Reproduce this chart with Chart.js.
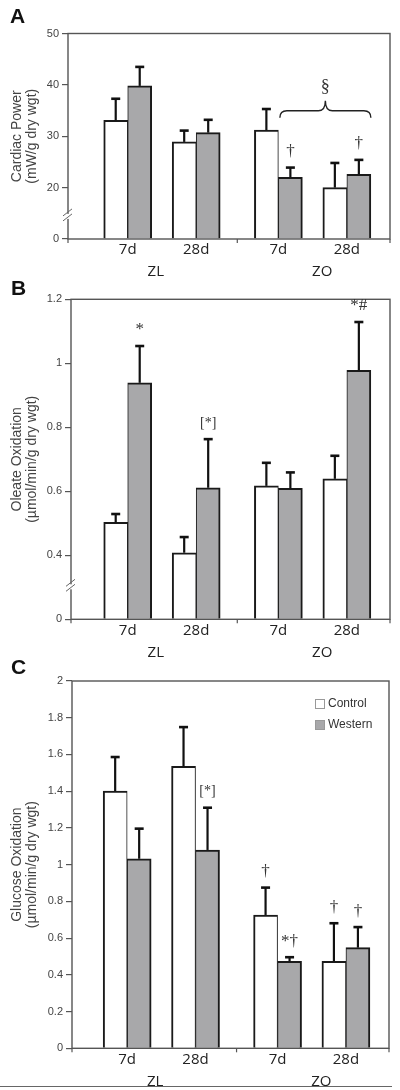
<!DOCTYPE html>
<html>
<head>
<meta charset="utf-8">
<script src="https://cdn.jsdelivr.net/npm/chart.js@4.4.0/dist/chart.umd.min.js"></script>
<style>
  html, body { margin: 0; padding: 0; background: #fff; }
  #wrap { width: 400px; }
  .panel { position: relative; width: 400px; }
  .panel canvas { display: block; }
</style>
</head>
<body>
<div id="wrap">
  <div class="panel" style="height:279px"><canvas id="chartA"></canvas></div>
  <div class="panel" style="height:380px"><canvas id="chartB"></canvas></div>
  <div class="panel" style="height:431px"><canvas id="chartC"></canvas></div>
</div>
<script>
var categories = ['7d', '28d', '7d', '28d'];
var groupGenotype = [0, 0, 1, 1];
var genotypes = ['ZL', 'ZO'];
var seriesNames = ['Control', 'Western'];

// A: cardiac power
var powerControl = [33.1, 28.9, 31.2, 20.0];
var powerControlErr = [4.2, 2.2, 4.1, 4.8];
var powerWestern = [39.8, 30.7, 22.0, 22.6];
var powerWesternErr = [3.7, 2.5, 1.9, 2.8];
var powerTicks = [10, 20, 30, 40, 50];
var powerTickLabels = ['0', '20', '30', '40', '50'];
var powerNotes = [[2, 1, '†'], [3, 1, '†']];

// B: oleate oxidation
var oleateControl = [0.503, 0.408, 0.617, 0.639];
var oleateControlErr = [0.026, 0.049, 0.072, 0.072];
var oleateWestern = [0.939, 0.611, 0.609, 0.978];
var oleateWesternErr = [0.115, 0.152, 0.050, 0.151];
var oleateTicks = [0.2, 0.4, 0.6, 0.8, 1, 1.2];
var oleateTickLabels = ['0', '0.4', '0.6', '0.8', '1', '1.2'];
var oleateNotes = [[0, 1, '*'], [1, 1, '[*]'], [3, 1, '*#']];

// C: glucose oxidation
var glucoseControl = [1.401, 1.535, 0.726, 0.474];
var glucoseControlErr = [0.185, 0.214, 0.149, 0.207];
var glucoseWestern = [1.032, 1.080, 0.474, 0.548];
var glucoseWesternErr = [0.164, 0.230, 0.022, 0.112];
var glucoseTicks = [0, 0.2, 0.4, 0.6, 0.8, 1, 1.2, 1.4, 1.6, 1.8, 2];
var glucoseTickLabels = ['0', '0.2', '0.4', '0.6', '0.8', '1', '1.2', '1.4', '1.6', '1.8', '2'];
var glucoseNotes = [[1, 1, '[*]'], [2, 0, '†'], [2, 1, '*†'], [3, 0, '†'], [3, 1, '†']];

var GROUP_GAP = 0.2;
var groupX = categories.map(function (c, i) { return i + GROUP_GAP * groupGenotype[i]; });
var genoLabelX = [0.41, 2.84];
var fills = ['#ffffff', '#a8a8aa'];
var sansFont = '"Liberation Sans", Arial, sans-serif';
var labelFont = '"Open Sans", "DejaVu Sans", sans-serif';
var serifFont = '"Liberation Serif", "Times New Roman", serif';

function makePanel(id, cfg) {
    var canvas = document.getElementById(id);
    var yMin = cfg.ticks[0];
    var yMax = cfg.ticks[cfg.ticks.length - 1];
    var series = [cfg.control, cfg.western];
    var errs = [cfg.controlErr, cfg.westernErr];

    var datasets = series.map(function (vals, s) {
        return {
            label: seriesNames[s],
            data: vals.map(function (v, i) { return { x: groupX[i], y: v }; }),
            backgroundColor: fills[s],
            borderColor: '#1a1a1a',
            borderWidth: s === 0 ? { top: 2, left: 2, right: 1, bottom: 0 } : { top: 2, left: 1, right: 2, bottom: 0 },
            borderSkipped: 'start',
            barThickness: 24,
            base: yMin
        };
    });

    var decor = {
        id: 'decor',
        afterDatasetsDraw: function (chart) {
            var ctx = chart.ctx;
            var area = chart.chartArea;
            var xs = chart.scales.x;
            var ys = chart.scales.y;
            ctx.save();

            // frame
            ctx.strokeStyle = '#555';
            ctx.lineWidth = 1.4;
            ctx.strokeRect(area.left, area.top, area.right - area.left, area.bottom - area.top);

            // axis break
            if (cfg.breakAt !== undefined) {
                var by = ys.getPixelForValue(cfg.breakAt);
                var bx = area.left;
                ctx.fillStyle = '#fff';
                ctx.fillRect(bx - 2, by - 3, 4, 5);
                ctx.strokeStyle = '#666';
                ctx.lineWidth = 1;
                ctx.beginPath();
                ctx.moveTo(bx - 5, by - 1); ctx.lineTo(bx + 4, by - 8);
                ctx.moveTo(bx - 5, by + 4); ctx.lineTo(bx + 4, by - 3);
                ctx.stroke();
            }

            // x axis tick marks
            ctx.strokeStyle = '#555';
            ctx.lineWidth = 1.2;
            var divider = (groupX[1] + groupX[2]) / 2;
            [xs.min, divider, xs.max].forEach(function (v) {
                var px = xs.getPixelForValue(v);
                ctx.beginPath();
                ctx.moveTo(px, area.bottom);
                ctx.lineTo(px, area.bottom + 4);
                ctx.stroke();
            });

            // error bars
            ctx.strokeStyle = '#111';
            var tops = [[], []];
            chart.data.datasets.forEach(function (ds, s) {
                var meta = chart.getDatasetMeta(s);
                meta.data.forEach(function (bar, i) {
                    var topY = ys.getPixelForValue(series[s][i] + errs[s][i]);
                    tops[s][i] = topY;
                    ctx.lineWidth = 2.2;
                    ctx.beginPath();
                    ctx.moveTo(bar.x, bar.y);
                    ctx.lineTo(bar.x, topY);
                    ctx.stroke();
                    ctx.lineWidth = 2.6;
                    ctx.beginPath();
                    ctx.moveTo(bar.x - 4.5, topY);
                    ctx.lineTo(bar.x + 4.5, topY);
                    ctx.stroke();
                });
            });

            // significance marks
            ctx.fillStyle = '#333';
            ctx.textAlign = 'center';
            ctx.textBaseline = 'middle';
            cfg.notes.forEach(function (n) {
                var bar = chart.getDatasetMeta(n[1]).data[n[0]];
                ctx.font = (n[2] === '[*]' ? '14px ' : '17px ') + serifFont;
                ctx.fillText(n[2], bar.x, tops[n[1]][n[0]] - 16);
            });

            // brace
            if (cfg.brace) {
                var b1 = chart.getDatasetMeta(cfg.brace.from[1]).data[cfg.brace.from[0]];
                var b2 = chart.getDatasetMeta(cfg.brace.to[1]).data[cfg.brace.to[0]];
                var x1 = b1.x - b1.width / 2 + 1.5;
                var x2 = b2.x + b2.width / 2;
                var xm = (x1 + x2) / 2;
                var yb = ys.getPixelForValue(cfg.brace.at);
                var yt = yb - 7;
                var yp = yb - 17;
                ctx.strokeStyle = '#222';
                ctx.lineWidth = 1.4;
                ctx.beginPath();
                ctx.moveTo(x1, yb);
                ctx.quadraticCurveTo(x1, yt, x1 + 7, yt);
                ctx.lineTo(xm - 7, yt);
                ctx.quadraticCurveTo(xm, yt, xm, yp);
                ctx.quadraticCurveTo(xm, yt, xm + 7, yt);
                ctx.lineTo(x2 - 7, yt);
                ctx.quadraticCurveTo(x2, yt, x2, yb);
                ctx.stroke();
                ctx.font = '18px ' + serifFont;
                ctx.fillText(cfg.brace.text, xm, yp - 13);
            }

            // genotype labels
            ctx.fillStyle = '#222';
            ctx.font = '15px ' + labelFont;
            genotypes.forEach(function (g, k) {
                ctx.fillText(g, xs.getPixelForValue(genoLabelX[k]), area.bottom + 33);
            });

            // panel letter
            ctx.textAlign = 'left';
            ctx.textBaseline = 'alphabetic';
            ctx.fillStyle = '#111';
            ctx.font = 'bold 21px ' + sansFont;
            ctx.fillText(cfg.letter, cfg.letterX, cfg.letterY);

            // legend
            if (cfg.legend) {
                ctx.font = '12px ' + sansFont;
                ctx.textBaseline = 'middle';
                seriesNames.forEach(function (name, s) {
                    var lx = area.right - 74;
                    var ly = area.top + 23 + s * 21;
                    ctx.fillStyle = fills[s];
                    ctx.fillRect(lx, ly - 5, 10, 10);
                    ctx.strokeStyle = '#999';
                    ctx.lineWidth = 1;
                    ctx.strokeRect(lx + 0.5, ly - 4.5, 9, 9);
                    ctx.fillStyle = '#333';
                    ctx.fillText(name, lx + 13, ly);
                });
            }

            // rule under the figure
            if (cfg.rule) {
                ctx.strokeStyle = '#666';
                ctx.lineWidth = 1;
                ctx.beginPath();
                ctx.moveTo(0, chart.height - 3.5);
                ctx.lineTo(392, chart.height - 3.5);
                ctx.stroke();
            }
            ctx.restore();
        }
    };

    return new Chart(canvas, {
        type: 'bar',
        data: { datasets: datasets },
        options: {
            responsive: true,
            maintainAspectRatio: false,
            animation: false,
            layout: { padding: { top: cfg.top, right: cfg.right, bottom: 0, left: 0 } },
            plugins: { legend: { display: false }, tooltip: { enabled: false } },
            scales: {
                x: {
                    type: 'linear',
                    offset: false,
                    min: cfg.xMin,
                    max: 3.83,
                    grid: { display: false, drawTicks: false },
                    border: { display: false },
                    afterBuildTicks: function (scale) {
                        scale.ticks = groupX.map(function (v) { return { value: v }; });
                    },
                    afterFit: function (scale) { scale.height = cfg.xHeight; },
                    ticks: {
                        autoSkip: false,
                        maxRotation: 0,
                        padding: 2,
                        color: '#222',
                        font: { family: labelFont, size: 15 },
                        callback: function (v, i) { return categories[i]; }
                    }
                },
                y: {
                    min: yMin,
                    max: yMax,
                    grid: { drawOnChartArea: false, drawTicks: true, tickLength: 6, tickColor: '#555', lineWidth: 1.2 },
                    border: { display: false },
                    afterBuildTicks: function (scale) {
                        scale.ticks = cfg.ticks.map(function (v) { return { value: v }; });
                    },
                    afterFit: function (scale) { scale.width = cfg.left; },
                    ticks: {
                        padding: 3,
                        color: '#444',
                        font: { family: sansFont, size: 11 },
                        callback: function (v, i) { return cfg.tickLabels[i]; }
                    },
                    title: {
                        display: true,
                        text: cfg.title,
                        color: '#444',
                        padding: { top: 9, bottom: 0 },
                        font: { family: sansFont, size: 14, lineHeight: 1.1 }
                    }
                }
            }
        },
        plugins: [decor]
    });
}

makePanel('chartA', {
    letter: 'A', letterX: 10, letterY: 23,
    title: ['Cardiac Power', '(mW/g dry wgt)'],
    control: powerControl, controlErr: powerControlErr,
    western: powerWestern, westernErr: powerWesternErr,
    ticks: powerTicks, tickLabels: powerTickLabels,
    notes: powerNotes,
    breakAt: 14.3,
    brace: { from: [2, 1], to: [3, 1], at: 33.6, text: '§' },
    top: 33.5, right: 10, left: 68, xHeight: 40, xMin: -0.872
});

makePanel('chartB', {
    letter: 'B', letterX: 11, letterY: 16,
    title: ['Oleate Oxidation', '(µmol/min/g dry wgt)'],
    control: oleateControl, controlErr: oleateControlErr,
    western: oleateWestern, westernErr: oleateWesternErr,
    ticks: oleateTicks, tickLabels: oleateTickLabels,
    notes: oleateNotes,
    breakAt: 0.3,
    top: 20.3, right: 10, left: 71, xHeight: 39.7, xMin: -0.828
});

makePanel('chartC', {
    letter: 'C', letterX: 11, letterY: 15,
    title: ['Glucose Oxidation', '(µmol/min/g dry wgt)'],
    control: glucoseControl, controlErr: glucoseControlErr,
    western: glucoseWestern, westernErr: glucoseWesternErr,
    ticks: glucoseTicks, tickLabels: glucoseTickLabels,
    notes: glucoseNotes,
    legend: true, rule: true,
    top: 22, right: 11, left: 72, xHeight: 41.7, xMin: -0.807
});
</script>
</body>
</html>
